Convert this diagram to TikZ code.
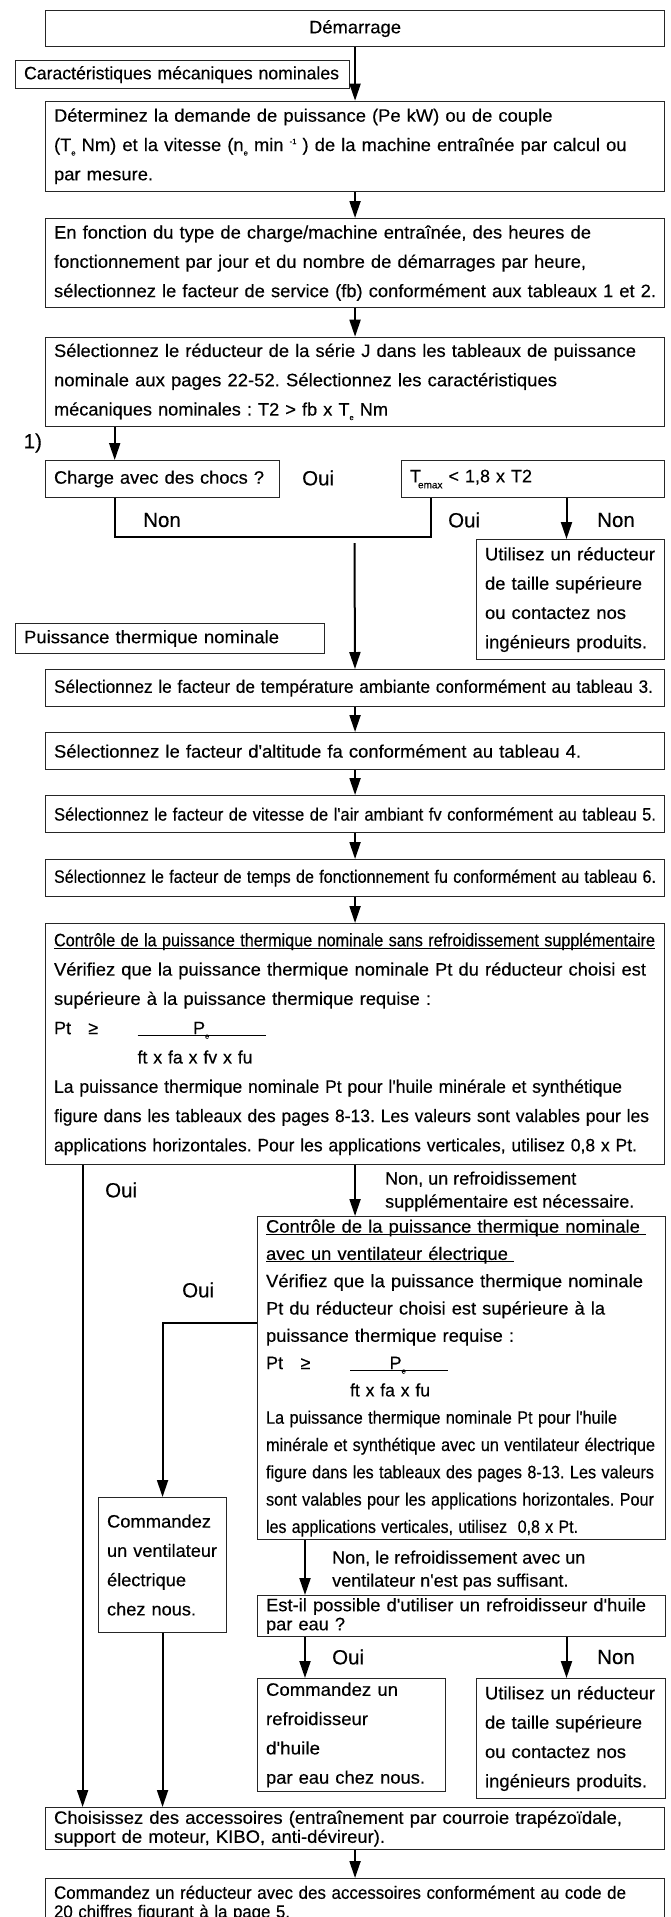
\documentclass[tikz,border=0pt]{standalone}
\usepackage{fontspec}
\setmainfont{Liberation Sans}[FakeBold=0.35]
\usepackage{graphicx}
\usetikzlibrary{arrows.meta}
\frenchspacing

\newsavebox\ulinebox
\newcommand\fitto[2]{\resizebox{#1pt}{\height}{#2}}
\newcommand\ulbox[1]{\sbox\ulinebox{#1}\rlap{\rule[-2.2pt]{\wd\ulinebox}{0.8pt}}\usebox\ulinebox}
\newcommand\lowtxt[1]{\raisebox{-4.5pt}{\fontsize{7.5}{7.5}\selectfont #1}}
\newcommand\hightxt[1]{\raisebox{7pt}{\fontsize{7.5}{7.5}\selectfont #1}}
\newcommand\apo{\textquotesingle}

\tikzset{
	box/.style={draw=black!85, line width=1.1pt, anchor=north west, align=left,
		inner xsep=8.5pt, inner ysep=0pt, font=\fontsize{18}{29.3}\selectfont},
	tight/.style={font=\fontsize{18}{19}\selectfont},
	arr/.style={line width=2pt, -{Triangle[length=17pt, width=11pt]}},
	link/.style={line width=2.4pt},
	lbl/.style={anchor=west, inner sep=0pt, align=left, font=\fontsize{18}{23}\selectfont},
	yesno/.style={lbl, font=\fontsize{20.5}{23}\selectfont}
}

\begin{document}
\begin{tikzpicture}[x=1pt, y=-1pt]
	\useasboundingbox (0,0) rectangle (670,1917);

	\node[box, text width=602pt, minimum height=36pt, align=center] (dem) at (45,10) {\fitto{92}{Démarrage}};
	\node[box, text width=317pt, minimum height=28pt] (carac) at (15,60) {\fitto{315}{Caractéristiques mécaniques nominales}};
	\node[box, text width=602pt, minimum height=90pt] (det) at (45,100.7) {
		\fitto{498.5}{Déterminez la demande de puissance (Pe kW) ou de couple}\\
		\fitto{572.5}{(T\lowtxt{e} Nm) et la vitesse (n\lowtxt{e} min \hightxt{-1} ) de la machine entraînée par calcul ou}\\
		\fitto{99}{par mesure.}};
	\node[box, text width=602pt, minimum height=89pt] (fonc) at (45,218) {
		\fitto{537}{En fonction du type de charge/machine entraînée, des heures de}\\
		\fitto{532}{fonctionnement par jour et du nombre de démarrages par heure,}\\
		\fitto{602}{sélectionnez le facteur de service (fb) conformément aux tableaux 1 et 2.}};
	\node[box, text width=602pt, minimum height=89.3pt] (serie) at (45,336.7) {
		\fitto{582}{Sélectionnez le réducteur de la série J dans les tableaux de puissance}\\
		\fitto{503}{nominale aux pages 22-52. Sélectionnez les caractéristiques}\\
		\fitto{334}{mécaniques nominales : T2 > fb x T\lowtxt{e} Nm}};

	\node[yesno] (one) at (23.5,443) {1)};
	\node[box, text width=217pt, minimum height=37pt] (choc) at (45,460) {\fitto{210}{Charge avec des chocs ?}};
	\node[yesno] (oui1) at (302,478) {Oui};
	\node[box, text width=246pt, minimum height=37pt] (temax) at (401,460) {T\kern-3pt\raisebox{-6pt}{\fontsize{10}{10}\selectfont emax}\ < 1,8 x T2};
	\node[yesno] (non1) at (143,520) {Non};
	\node[yesno] (oui2) at (448,520) {Oui};
	\node[yesno] (non2) at (597,520) {Non};
	\node[box, text width=171pt, minimum height=120pt] (util1) at (476,539) {
		\fitto{170}{Utilisez un réducteur}\\
		\fitto{157}{de taille supérieure}\\
		\fitto{141}{ou contactez nos}\\
		\fitto{162}{ingénieurs produits.}};

	\node[box, text width=292pt, minimum height=30pt] (therm) at (15,623) {\fitto{255}{Puissance thermique nominale}};
	\node[box, text width=602pt, minimum height=37pt] (temp) at (45,669) {\fitto{599}{Sélectionnez le facteur de température ambiante conformément au tableau 3.}};
	\node[box, text width=602pt, minimum height=37pt] (alt) at (45,732) {\fitto{527}{Sélectionnez le facteur d\apo altitude fa conformément au tableau 4.}};
	\node[box, text width=602pt, minimum height=37pt] (vit) at (45,795) {\fitto{602}{Sélectionnez le facteur de vitesse de l\apo air ambiant fv conformément au tableau 5.}};
	\node[box, text width=602pt, minimum height=37pt] (temps) at (45,859) {\fitto{602}{Sélectionnez le facteur de temps de fonctionnement fu conformément au tableau 6.}};

	\node[box, text width=602pt, minimum height=241pt] (ctrl1) at (45,923) {
		\fitto{601}{\ulbox{Contrôle de la puissance thermique nominale sans refroidissement supplémentaire}}\\
		\fitto{592}{Vérifiez que la puissance thermique nominale Pt du réducteur choisi est}\\
		\fitto{377}{supérieure à la puissance thermique requise :}\\
		\makebox[34.2pt][l]{Pt}\makebox[49.3pt][l]{≥}\rlap{\rule[-1.5pt]{128pt}{0.9pt}}\hspace*{55.5pt}P\lowtxt{e}\\
		\hspace*{83.5pt}\fitto{115}{ft x fa x fv x fu}\\
		\fitto{568}{La puissance thermique nominale Pt pour l\apo huile minérale et synthétique}\\
		\fitto{595}{figure dans les tableaux des pages 8-13. Les valeurs sont valables pour les}\\
		\fitto{583}{applications horizontales. Pour les applications verticales, utilisez 0,8 x Pt.}};

	\node[yesno] (oui3) at (105,1190) {Oui};
	\node[lbl] (nonA) at (385,1191.5) {Non, un refroidissement\\supplémentaire est nécessaire.};
	\node[box, text width=391pt, minimum height=323pt, font=\fontsize{18}{27.3}\selectfont] (ctrl2) at (257,1216) {
		\fitto{380}{\ulbox{Contrôle de la puissance thermique nominale\ }}\\
		\fitto{248}{\ulbox{avec un ventilateur électrique\ }}\\
		\fitto{377}{Vérifiez que la puissance thermique nominale}\\
		\fitto{339}{Pt du réducteur choisi est supérieure à la}\\
		\fitto{248}{puissance thermique requise :}\\
		\makebox[34.5pt][l]{Pt}\makebox[49.5pt][l]{≥}\rlap{\rule[-1.5pt]{98pt}{0.9pt}}\hspace*{39.5pt}P\lowtxt{e}\\
		\hspace*{84pt}\fitto{80}{ft x fa x fu}\\
		\fitto{351}{La puissance thermique nominale Pt pour l\apo huile}\\
		\fitto{389}{minérale et synthétique avec un ventilateur électrique}\\
		\fitto{388}{figure dans les tableaux des pages 8-13. Les valeurs}\\
		\fitto{388}{sont valables pour les applications horizontales. Pour}\\
		\fitto{312}{les applications verticales, utilisez\ \ 0,8 x Pt.}};
	\node[yesno] (oui4) at (182,1290) {Oui};
	\node[box, text width=111pt, minimum height=135pt] (vent) at (98,1497) {
		\fitto{104}{Commandez}\\
		\fitto{110}{un ventilateur}\\
		\fitto{79}{électrique}\\
		\fitto{89}{chez nous.}};

	\node[lbl] (nonB) at (332,1570.5) {Non, le refroidissement avec un\\ventilateur n\apo est pas suffisant.};
	\node[box, tight, text width=391pt, minimum height=41pt] (eau) at (257,1595) {
		\fitto{380}{Est-il possible d\apo utiliser un refroidisseur d\apo huile}\\
		\fitto{79}{par eau ?}};
	\node[yesno] (oui5) at (332,1657) {Oui};
	\node[yesno] (non3) at (597,1657) {Non};
	\node[box, text width=171pt, minimum height=113pt] (refr) at (257,1678) {
		\fitto{132}{Commandez un}\\
		\fitto{102}{refroidisseur}\\
		\fitto{54}{d\apo huile}\\
		\fitto{159}{par eau chez nous.}};
	\node[box, text width=172pt, minimum height=120pt] (util2) at (476,1678) {
		\fitto{170}{Utilisez un réducteur}\\
		\fitto{157}{de taille supérieure}\\
		\fitto{141}{ou contactez nos}\\
		\fitto{162}{ingénieurs produits.}};

	\node[box, tight, text width=602pt, minimum height=42pt] (choix) at (45,1807) {
		\fitto{568}{Choisissez des accessoires (entraînement par courroie trapézoïdale,}\\
		\fitto{331}{support de moteur, KIBO, anti-dévireur).}};
	\node[box, tight, text width=602pt, minimum height=50pt] (cmd) at (45,1878) {
		\fitto{572}{Commandez un réducteur avec des accessoires conformément au code de}\\
		\fitto{236}{20 chiffres figurant à la page 5.}};

	\coordinate (colA) at (114.7,0);
	\coordinate (colB) at (431,0);
	\coordinate (colC) at (566.5,0);
	\coordinate (colD) at (82.6,0);
	\coordinate (colF) at (305,0);
	\coordinate (join) at (431,537);
	\coordinate (merge) at (354.5,543);
	\coordinate (fanout) at (0,1323);

	\draw[arr] (dem) -- (det);
	\draw[arr] (det) -- (fonc);
	\draw[arr] (fonc) -- (serie);
	\draw[arr] (serie.south -| colA) -- (choc.north -| colA);
	\draw[link] (choc.south -| colA) |- (join) -- (temax.south -| colB);
	\draw[arr] (temax.south -| colC) -- (util1.north -| colC);
	\draw[arr] (merge) -- (temp);
	\draw[arr] (temp) -- (alt);
	\draw[arr] (alt) -- (vit);
	\draw[arr] (vit) -- (temps);
	\draw[arr] (temps) -- (ctrl1);
	\draw[arr] (ctrl1.south -| colD) -- (choix.north -| colD);
	\draw[arr] (ctrl1.south) -- (ctrl1.south |- ctrl2.north);
	\draw[arr] (ctrl2.west |- fanout) -| (vent.north);
	\draw[arr] (vent) -- (vent.south |- choix.north);
	\draw[arr] (ctrl2.south -| colF) -- (eau.north -| colF);
	\draw[arr] (eau.south -| colF) -- (refr.north -| colF);
	\draw[arr] (eau.south -| colC) -- (util2.north -| colC);
	\draw[arr] (choix) -- (cmd);
\end{tikzpicture}
\end{document}
